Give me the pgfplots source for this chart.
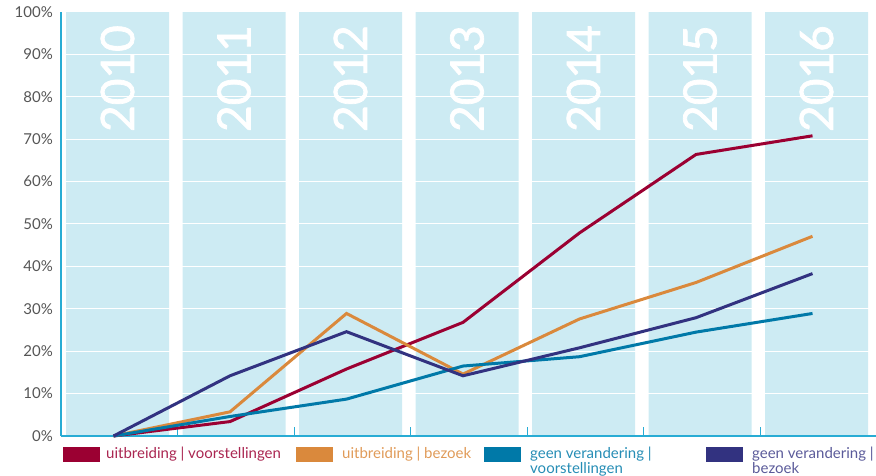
\documentclass[border=0pt]{standalone}
\usepackage{fontspec}
\setmainfont{Lato}
\newfontfamily\yearfam{Lato}[FakeBold=1.6]
\usepackage{pgfplots}
\pgfplotsset{compat=1.18}
\definecolor{colbg}{RGB}{205,235,243}
\definecolor{axcyan}{RGB}{40,172,212}
\definecolor{cred}{RGB}{155,0,50}
\definecolor{corange}{RGB}{218,137,60}
\definecolor{cteal}{RGB}{0,121,168}
\definecolor{cblue}{RGB}{50,50,128}
\definecolor{ticktext}{RGB}{85,85,85}
\newcommand\tickfont{\fontsize{15}{18}\selectfont}
\newcommand\yearfont{\yearfam\fontsize{46}{46}\selectfont}
\newcommand\legfont{\fontsize{15}{16}\selectfont}

\begin{document}
\begin{tikzpicture}[x=1pt,y=1pt]
  \begin{axis}[
    name=ax, at={(0,0)}, anchor=south west,
    set layers,
    scale only axis, width=815pt, height=424pt,
    xmin=-0.451, xmax=6.545, ymin=0, ymax=100,
    axis x line*=bottom, axis y line*=left,
    axis line style={-, draw=axcyan, line width=1.3pt},
    xtick={0.55,1.55,2.55,3.55,4.55,5.55},
    xticklabels={},
    xtick style={draw=axcyan, line width=1pt, /pgfplots/major tick length=9pt},
    tick align=inside,
    ytick={0,10,...,100},
    ytick style={draw=none},
    yticklabel={\pgfmathprintnumber{\tick}\%},
    yticklabel style={font=\tickfont, text=ticktext, inner sep=0pt, anchor=east, xshift=-8pt},
    /pgf/number format/assume math mode=true,
    ymajorgrids, grid style={white, line width=1pt},
    clip=false,
  ]
  % light blue year columns
  \addplot[ybar, bar width=103pt, bar shift=4pt, fill=colbg, draw=none,
           on layer=axis background]
    coordinates {(0,100)(1,100)(2,100)(3,100)(4,100)(5,100)(6,100)};

  \node[rotate=90, text=white, font=\yearfont] at (axis cs:0.034,84.3) {2010};
  \node[rotate=90, text=white, font=\yearfont] at (axis cs:1.034,84.3) {2011};
  \node[rotate=90, text=white, font=\yearfont] at (axis cs:2.034,84.3) {2012};
  \node[rotate=90, text=white, font=\yearfont] at (axis cs:3.034,84.3) {2013};
  \node[rotate=90, text=white, font=\yearfont] at (axis cs:4.034,84.3) {2014};
  \node[rotate=90, text=white, font=\yearfont] at (axis cs:5.034,84.3) {2015};
  \node[rotate=90, text=white, font=\yearfont] at (axis cs:6.034,84.3) {2016};

  % uitbreiding | voorstellingen
  \addplot[cred, line width=3pt] coordinates {
    (0,0)(1,3.4)(2,15.8)(3,26.8)(4,47.9)(5,66.4)(6,70.8)};
  % uitbreiding | bezoek
  \addplot[corange, line width=3pt] coordinates {
    (0,0)(1,5.7)(2,28.9)(3,14.6)(4,27.6)(5,36.2)(6,47.1)};
  % geen verandering | voorstellingen
  \addplot[cteal, line width=3pt] coordinates {
    (0,0)(1,4.6)(2,8.7)(3,16.5)(4,18.7)(5,24.5)(6,28.9)};
  % geen verandering | bezoek
  \addplot[cblue, line width=3pt] coordinates {
    (0,0)(1,14.2)(2,24.6)(3,14.2)(4,20.8)(5,27.9)(6,38.3)};
  \end{axis}

  % legend
  \fill[cred] (2,-10.7) rectangle (39,-25.7);
  \node[anchor=base west, inner sep=0pt, font=\legfont, text=cred!85!white] at (45,-23) {uitbreiding | voorstellingen};
  \fill[corange] (235,-10.7) rectangle (272,-25.7);
  \node[anchor=base west, inner sep=0pt, font=\legfont, text=corange!85!white] at (281,-23) {uitbreiding | bezoek};
  \fill[cteal] (423,-10.7) rectangle (460,-25.7);
  \node[anchor=base west, inner sep=0pt, font=\legfont, text=cteal!85!white] at (469,-23) {geen verandering |};
  \node[anchor=base west, inner sep=0pt, font=\legfont, text=cteal!85!white] at (469,-38) {voorstellingen};
  \fill[cblue] (645,-10.7) rectangle (682,-25.7);
  \node[anchor=base west, inner sep=0pt, font=\legfont, text=cblue!80!white] at (691,-23) {geen verandering |};
  \node[anchor=base west, inner sep=0pt, font=\legfont, text=cblue!80!white] at (691,-38) {bezoek};

  \pgfresetboundingbox
  \path[use as bounding box] (-61,-40) rectangle (815,436);
\end{tikzpicture}
\end{document}
